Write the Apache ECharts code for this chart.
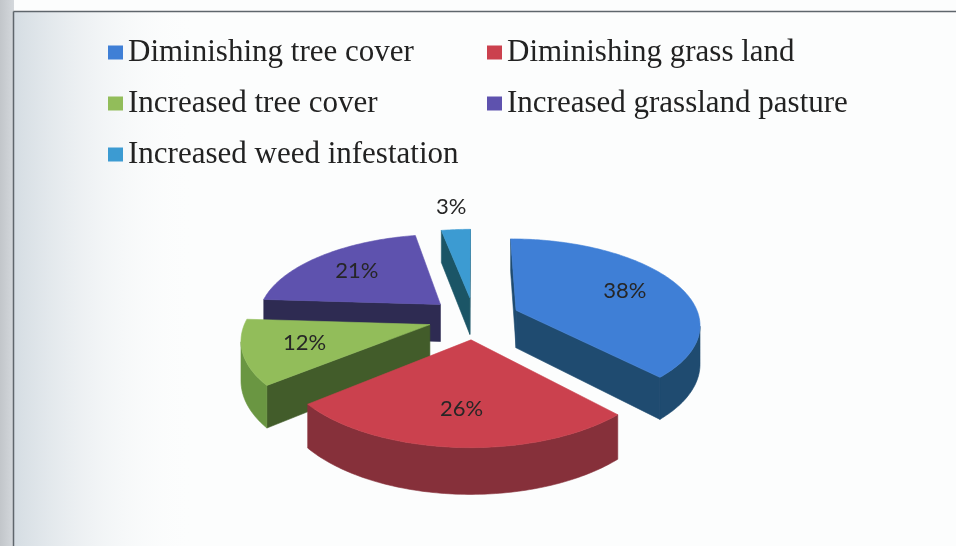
<!DOCTYPE html>
<html><head><meta charset="utf-8">
<script src="https://cdn.jsdelivr.net/npm/echarts@6/dist/echarts.min.js"></script>
<style>html,body{margin:0;padding:0;background:#fcfdfd}#c{width:956px;height:546px}</style>
</head><body><div id="c"></div>
<script>
const categories = ['Diminishing tree cover','Diminishing grass land','Increased tree cover','Increased grassland pasture','Increased weed infestation'];
const values = [38, 26, 12, 21, 3];
const topColors = ['#3f7fd6','#cb414e','#92bd5a','#5e52ae','#3c9bd2'];
const sideColors = ['#1f4b70','#7e2a31','#425c2a','#2e2b52','#1b5566'];
const outerColors = ['#1f4b70','#86303a','#6a9642','#302d58','#1f5f72'];

const total = values.reduce((a,b)=>a+b,0);
const G = {cx:474, cy:318, rx:183.4, ry:84.3, k:0.15, explode:0.25, depth:38, labelR:0.68, outsideR:1.4};

function proj(X, Z, H){
  const s = 1/(1+G.k*Z);
  return [G.cx + X*G.rx*s, G.cy - Z*G.ry*s + H*G.depth*s];
}
function area(q){
  let s=0;
  for(let j=0;j<q.length;j++){const p=q[j], r=q[(j+1)%q.length]; s+=p[0]*r[1]-r[0]*p[1];}
  return s;
}
function midAngle(i){
  let before=0; for(let j=0;j<i;j++) before+=values[j];
  return (before+values[i]/2)/total*2*Math.PI;
}
function makeRender(i){
  return function(params, api){
    const v = api.value(0);
    let before = 0; for(let j=0;j<i;j++) before += values[j];
    const a1 = before/total*2*Math.PI, a2 = (before+v)/total*2*Math.PI, am = (a1+a2)/2;
    const tx = G.explode*Math.sin(am), tz = G.explode*Math.cos(am);
    const pts3 = [[tx,tz]];
    const n = Math.max(2, Math.ceil((a2-a1)/(Math.PI/180)));
    for(let t=0;t<=n;t++){const a=a1+(a2-a1)*t/n; pts3.push([tx+Math.sin(a), tz+Math.cos(a)]);}
    const top = pts3.map(p=>proj(p[0],p[1],0));
    const bot = pts3.map(p=>proj(p[0],p[1],1));
    const m = pts3.length;
    const faces = [];
    [[0,1],[m-1,0]].forEach(([a,b])=>{
      const q=[top[a],top[b],bot[b],bot[a]];
      if(area(q) < -1e-6) faces.push({q:q, c:sideColors[i]});
    });
    function pushRun(r){
      const poly = r.map(j=>top[j]).concat(r.slice().reverse().map(j=>bot[j]));
      faces.push({q:poly, c:outerColors[i]});
    }
    let run = null;
    for(let j=1;j<m-1;j++){
      const q=[top[j],top[j+1],bot[j+1],bot[j]];
      if(area(q) < -1e-6){ if(!run) run=[j]; run.push(j+1); }
      else if(run){ pushRun(run); run=null; }
    }
    if(run) pushRun(run);
    const children = faces.map(f=>({type:'polygon', shape:{points:f.q}, style:{fill:f.c, stroke:f.c, lineWidth:0.6}}));
    children.push({type:'polygon', shape:{points:top}, style:{fill:api.visual('color'), stroke:api.visual('color'), lineWidth:0.6}});
    const r = v < 5 ? G.outsideR : G.labelR;
    const lp = proj(tx + r*Math.sin(am), tz + r*Math.cos(am), 0);
    children.push({type:'text', x:lp[0], y:lp[1], style:{text: v+'%', font:'22px Lato', fill:'#262626', align:'center', verticalAlign:'middle'}});
    return {type:'group', children:children};
  };
}
// painter's order: back slices first
const depthRank = values.map((v,i)=>i).sort((a,b)=>Math.cos(midAngle(b))-Math.cos(midAngle(a)));
const zOf = {}; depthRank.forEach((idx,r)=>{zOf[idx]=2+r;});

const legendBase = {orient:'vertical', top:37, itemWidth:15, itemHeight:14, itemGap:20, icon:'rect', padding:0, selectedMode:false,
  textStyle:{fontFamily:'Liberation Serif', fontSize:31, lineHeight:31, color:'#222'}};

const chart = echarts.init(document.getElementById('c'));
chart.setOption({
  backgroundColor:'#fcfdfd',
  animation:false,
  graphic:[
    {type:'rect', z:-10, shape:{x:0,y:0,width:14,height:546}, style:{fill:new echarts.graphic.LinearGradient(0,0,1,0,[{offset:0,color:'#c2c6ca'},{offset:1,color:'#d4d8dc'}])}},
    {type:'rect', z:-10, shape:{x:14,y:12,width:180,height:534}, style:{fill:new echarts.graphic.LinearGradient(0,0,1,0,[{offset:0,color:'rgba(200,210,218,0.75)'},{offset:1,color:'rgba(252,253,253,0)'}])}},
    {type:'line', z:-5, shape:{x1:13.5,y1:11.5,x2:956,y2:11.5}, style:{stroke:'#5f666c', lineWidth:1.5}},
    {type:'line', z:-5, shape:{x1:13.5,y1:11.5,x2:13.5,y2:546}, style:{stroke:'#5f666c', lineWidth:1.5}}
  ],
  legend:[
    Object.assign({}, legendBase, {left:108, data:[categories[0],categories[2],categories[4]]}),
    Object.assign({}, legendBase, {left:487, data:[categories[1],categories[3]]})
  ],
  series: categories.map((name,i)=>({
    type:'custom', name:name, coordinateSystem:'none', silent:true,
    data:[values[i]], renderItem:makeRender(i), itemStyle:{color:topColors[i]}, z:zOf[i]
  }))
});
</script>
</body></html>
